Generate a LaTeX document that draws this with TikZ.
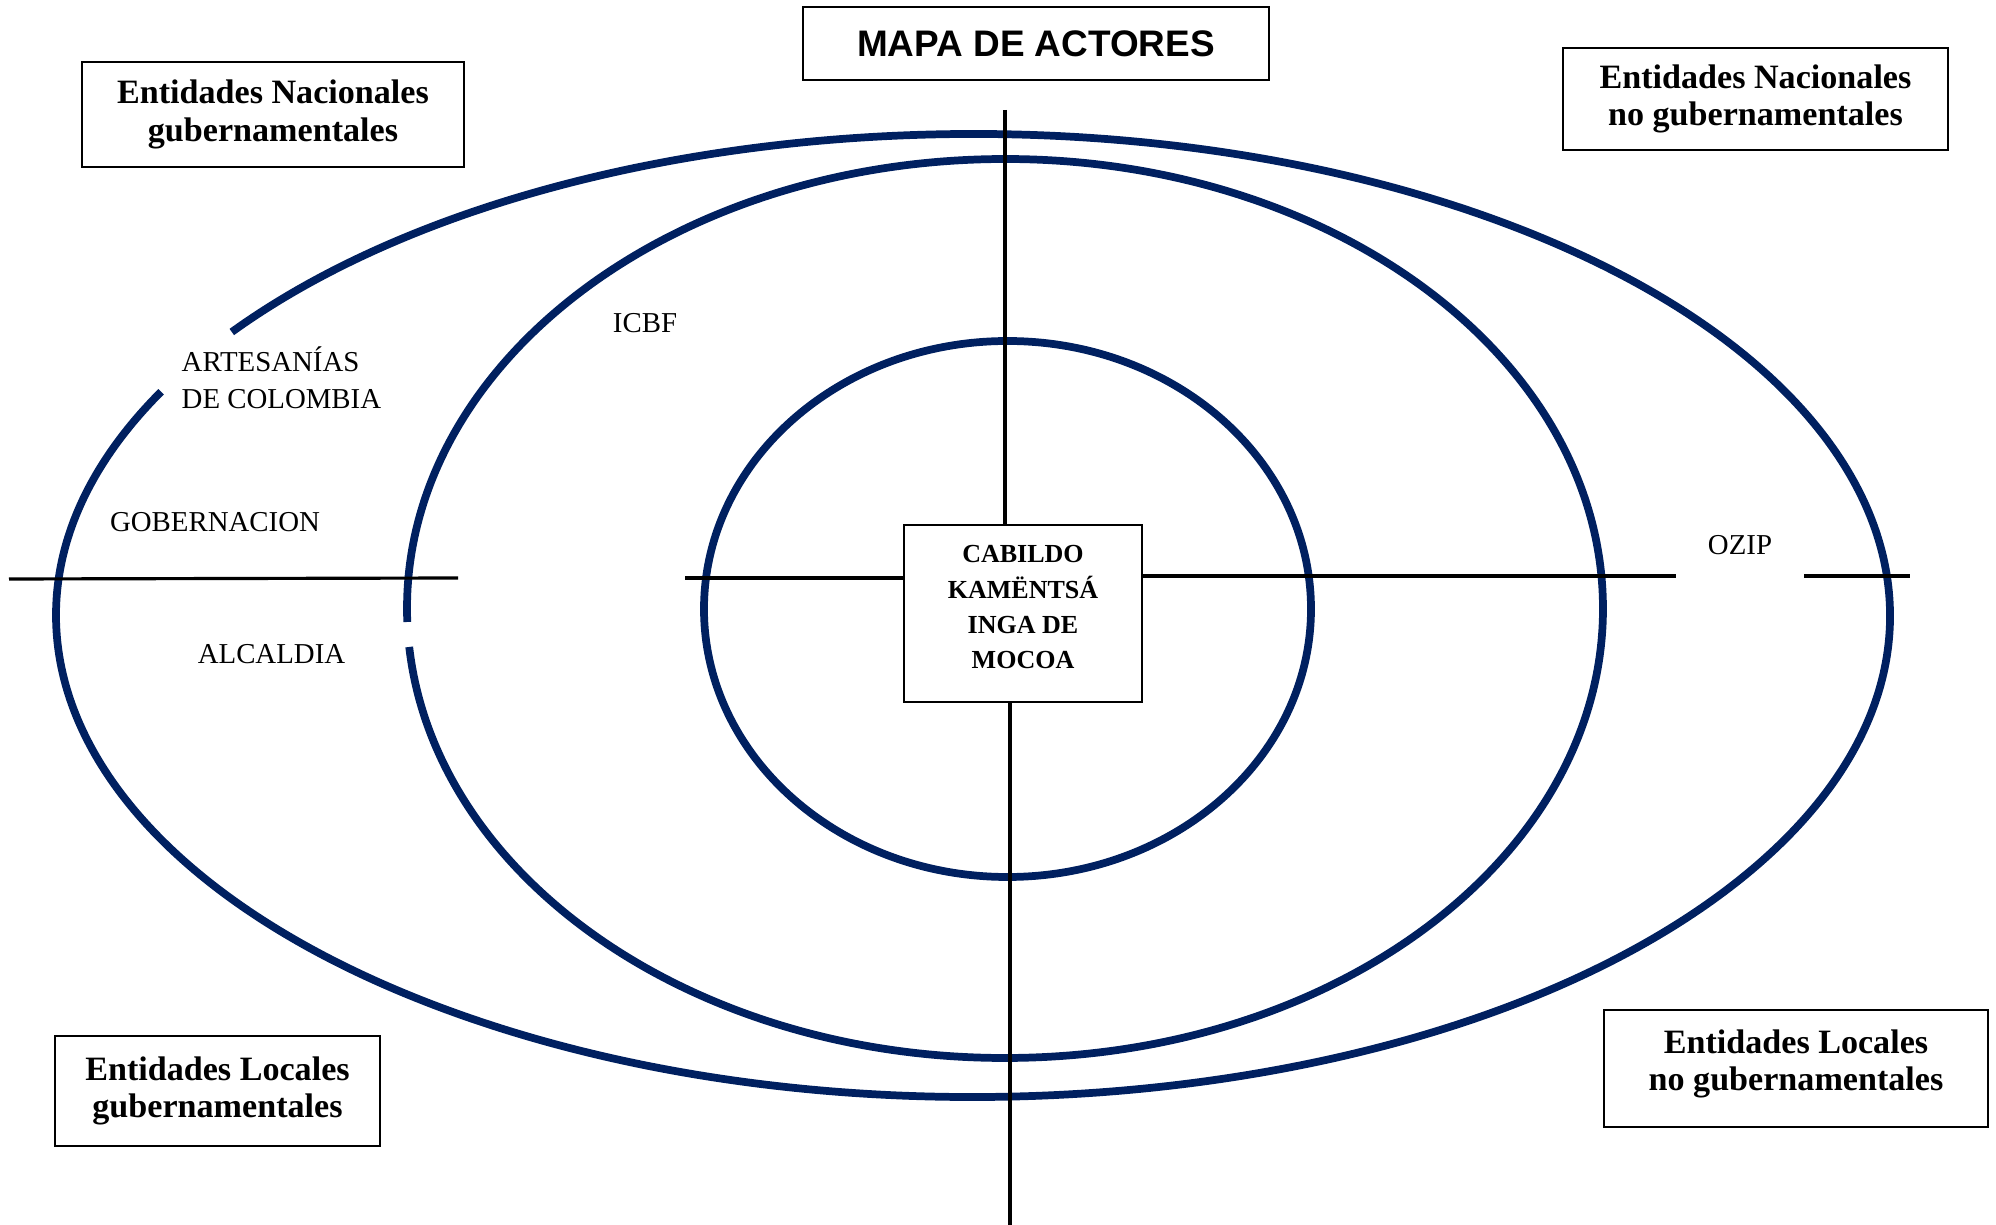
\documentclass[tikz,border=0pt]{standalone}
\usepackage{fontspec}
\setmainfont{Liberation Serif}
\newfontfamily\titlefont{Liberation Sans}
\definecolor{ringblue}{RGB}{0,32,96}

\begin{document}
\begin{tikzpicture}[x=0.01cm, y=-0.01cm,
    ring/.style={draw=ringblue, line width=2.2pt},
    axis/.style={draw=black, line width=0.9pt},
    group/.style={draw=black, line width=0.6pt, inner sep=0pt, align=center, font=\bfseries\fontsize{9.7pt}{10.6pt}\selectfont},
    actor/.style={inner sep=0pt, align=left, font=\fontsize{8.2pt}{10.5pt}\selectfont}]
	\useasboundingbox (0,0) rectangle (1996,1225);

	% rings
	\coordinate (outer) at (973,615.5);
	\coordinate (middle) at (1005,608.5);
	\coordinate (inner) at (1007.5,609);
	\draw[ring] (outer) ++(216.07:917 and 481.5) arc[start angle=216.07, end angle=567.69, x radius=917, y radius=481.5];
	\draw[ring] (middle) ++(178.28:598 and 449.5) arc[start angle=178.28, end angle=535.09, x radius=598, y radius=449.5];
	\draw[ring] (inner) ellipse[x radius=303.5, y radius=268];

	\node[draw=black, line width=0.6pt, inner sep=0pt, minimum width=4.66cm, minimum height=0.73cm, font=\titlefont\bfseries\fontsize{10.5pt}{12pt}\selectfont](mapa) at (1036,43.5){MAPA DE ACTORES};
	\node[group, minimum width=3.82cm, minimum height=1.05cm](nacgub) at (273,114.5){Entidades Nacionales\\gubernamentales};
	\node[group, minimum width=3.85cm, minimum height=1.02cm](nacnogub) at (1755.5,99){Entidades Nacionales\\no gubernamentales};
	\node[group, minimum width=3.25cm, minimum height=1.10cm](locgub) at (217.5,1091){Entidades Locales\\gubernamentales};
	\node[group, minimum width=3.84cm, minimum height=1.17cm, text depth=0.17cm](locnogub) at (1796,1068.5){Entidades Locales\\no gubernamentales};
	\node[group, minimum width=2.38cm, minimum height=1.77cm, text depth=0.13cm, font=\bfseries\fontsize{7.4pt}{10pt}\selectfont](cabildo) at (1023,613.5){CABILDO\\KAMËNTSÁ\\INGA DE\\MOCOA};

	\node[actor](icbf) at (645,323){ICBF};
	\node[actor, anchor=west](artesanias) at (181,378){ARTESANÍAS\\DE COLOMBIA};
	\node[actor](gobernacion) at (215,522){GOBERNACION};
	\node[actor](alcaldia) at (271.5,654){ALCALDIA};
	\node[actor, minimum width=1.27cm](ozip) at (1740,545){OZIP};

	% axes
	\coordinate (vtop) at (1005,110);
	\coordinate (vbot) at (1010,1225);
	\coordinate (hwest) at (9,579);
	\coordinate (hcut) at (458,578);
	\coordinate (hmid) at (685,578);
	\coordinate (heast) at (1910,576);
	\draw[axis] (vtop) -- (vtop |- cabildo.north);
	\draw[axis] (vbot |- cabildo.south) -- (vbot);
	\draw[axis] (hwest) -- (hcut);
	\draw[axis] (hmid) -- (hmid -| cabildo.west);
	\draw[axis] (cabildo.east |- heast) -- (ozip.west |- heast);
	\draw[axis] (ozip.east |- heast) -- (heast);
\end{tikzpicture}
\end{document}
